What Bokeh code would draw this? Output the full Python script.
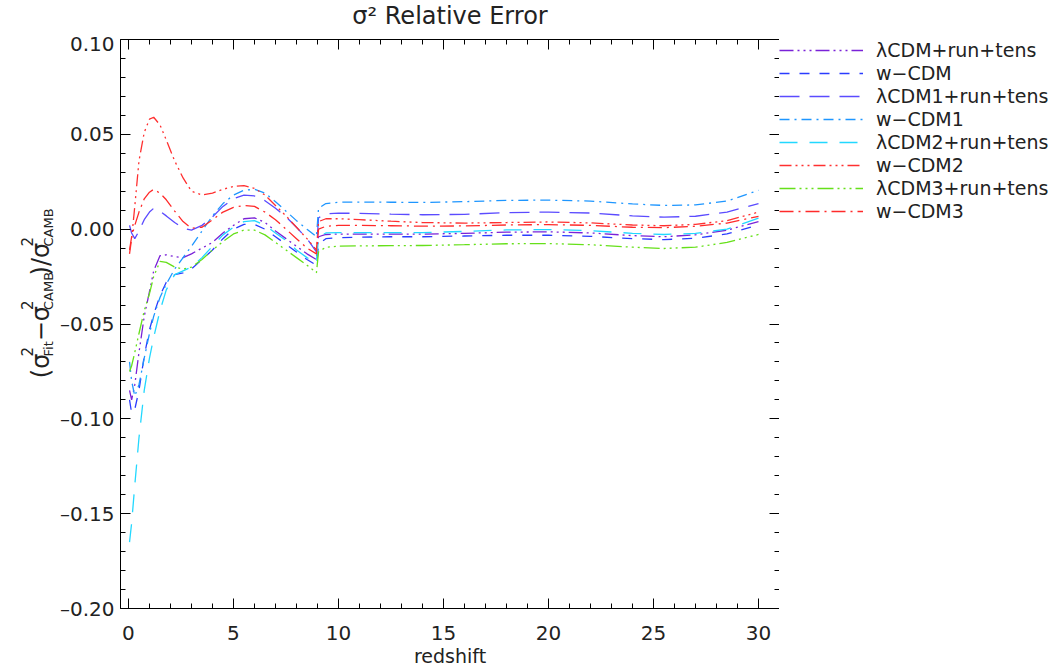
import math
from bokeh.plotting import figure
from bokeh.layouts import row, column
from bokeh.models import (LinearAxis, Range1d, SingleIntervalTicker, CustomJSTickFormatter,
                          Legend, LegendItem)
from bokeh.core.properties import value
from bokeh.embed import file_html
from bokeh.resources import INLINE

# ---------------- data ----------------
redshift = [0.05, 0.15, 0.3, 0.5, 0.75, 1.0, 1.2, 1.5, 1.8, 2.2, 2.6, 3.0, 3.5, 4.0, 4.5,
            5.0, 5.5, 6.0, 6.5, 7.0, 7.5, 8.0, 8.5, 8.95,
            9.05, 9.4, 10, 11, 12.5, 14, 16, 18, 20, 22, 24, 25.5, 27, 28.5, 30]

lcdm_run_tens = [-0.085, -0.090, -0.082, -0.065, -0.046, -0.033, -0.022, -0.014, -0.0135, -0.0145,
                 -0.015, -0.013, -0.010, -0.007, -0.002, 0.002, 0.0055, 0.006, 0.0035, -0.001,
                 -0.005, -0.009, -0.013, -0.016,
                 -0.004, -0.0028, -0.0026, -0.0026, -0.0026, -0.0026, -0.0022, -0.0016, -0.0014,
                 -0.0020, -0.0034, -0.0040, -0.0030, -0.0005, 0.0040]
w_cdm = [-0.090, -0.097, -0.095, -0.085, -0.067, -0.053, -0.045, -0.035, -0.028, -0.024,
         -0.023, -0.021, -0.016, -0.011, -0.005, 0.000, 0.0025, 0.0025, 0.000, -0.004,
         -0.008, -0.012, -0.016, -0.019,
         -0.008, -0.0050, -0.0045, -0.0042, -0.0040, -0.0040, -0.0036, -0.0032, -0.0032,
         -0.0038, -0.0050, -0.0055, -0.0048, -0.0025, 0.0022]
lcdm1_run_tens = [0.002, -0.002, -0.005, -0.001, 0.005, 0.009, 0.011, 0.0095, 0.007, 0.0035,
                  0.0005, -0.0005, 0.002, 0.0065, 0.012, 0.016, 0.018, 0.0175, 0.015, 0.011,
                  0.0065, 0.001, -0.005, -0.012,
                  0.006, 0.0080, 0.0085, 0.0083, 0.0079, 0.0076, 0.0078, 0.0087, 0.0090,
                  0.0085, 0.0070, 0.0063, 0.0068, 0.0090, 0.0135]
w_cdm1 = [-0.070, -0.080, -0.088, -0.082, -0.068, -0.055, -0.046, -0.036, -0.029, -0.021,
          -0.015, -0.009, -0.001, 0.007, 0.0135, 0.018, 0.0205, 0.021, 0.019, 0.0145,
          0.0095, 0.0045, 0.000, -0.004,
          0.011, 0.0135, 0.0142, 0.0143, 0.0142, 0.0141, 0.0145, 0.0152, 0.0153,
          0.0148, 0.0133, 0.0125, 0.0128, 0.0148, 0.0205]
lcdm2_run_tens = [-0.165, -0.155, -0.135, -0.110, -0.085, -0.068, -0.057, -0.043, -0.032, -0.024,
                  -0.022, -0.020, -0.015, -0.009, -0.003, 0.001, 0.004, 0.0045, 0.002, -0.002,
                  -0.006, -0.011, -0.015, -0.018,
                  -0.004, -0.0020, -0.0018, -0.0018, -0.0018, -0.0018, -0.0012, -0.0004, -0.0002,
                  -0.0008, -0.0022, -0.0028, -0.0022, 0.0000, 0.0058]
w_cdm2 = [-0.013, -0.005, 0.012, 0.036, 0.051, 0.058, 0.059, 0.055, 0.047, 0.036,
          0.027, 0.020, 0.018, 0.019, 0.021, 0.0225, 0.023, 0.0215, 0.018, 0.0125,
          0.007, 0.001, -0.005, -0.011,
          0.004, 0.0055, 0.0055, 0.0050, 0.0042, 0.0035, 0.0032, 0.0035, 0.0038,
          0.0033, 0.0022, 0.0018, 0.0025, 0.0045, 0.0090]
lcdm3_run_tens = [-0.075, -0.072, -0.065, -0.055, -0.043, -0.034, -0.025, -0.017, -0.0175, -0.020,
                  -0.021, -0.020, -0.016, -0.011, -0.0065, -0.0025, -0.0005, -0.0005, -0.003, -0.007,
                  -0.011, -0.015, -0.019, -0.023,
                  -0.012, -0.0095, -0.0090, -0.0088, -0.0087, -0.0086, -0.0082, -0.0077, -0.0076,
                  -0.0082, -0.0095, -0.0102, -0.0095, -0.0070, -0.0028]
w_cdm3 = [-0.011, -0.004, 0.002, 0.009, 0.016, 0.0195, 0.021, 0.019, 0.0155, 0.0095,
          0.004, 0.0005, 0.001, 0.005, 0.009, 0.0115, 0.0125, 0.012, 0.009, 0.005,
          0.000, -0.005, -0.010, -0.013,
          0.000, 0.0015, 0.0020, 0.0020, 0.0018, 0.0016, 0.0017, 0.0022, 0.0024,
          0.0020, 0.0010, 0.0008, 0.0015, 0.0032, 0.0068]

series_names = ["λCDM+run+tens", "w\u2212CDM", "λCDM1+run+tens", "w\u2212CDM1",
                "λCDM2+run+tens", "w\u2212CDM2", "λCDM3+run+tens", "w\u2212CDM3"]
series_values = [lcdm_run_tens, w_cdm, lcdm1_run_tens, w_cdm1,
                 lcdm2_run_tens, w_cdm2, lcdm3_run_tens, w_cdm3]

# ---------------- styles ----------------
colors = ["#7a22d8", "#2a3cff", "#5b4bff", "#1e96ff", "#22d8ff", "#ff3030", "#66e01a", "#ff2a2a"]
dashes = ["14 4 2 4 2 4 2 4", "10 10", "20 10", "10 5 2 5",
          "18 12", "12 4 2 4 2 4 2 4", "16 4 2 4 2 4 2 4", "14 5 2 5"]

FONT = "DejaVu Sans"
TXT = "#222222"
PAGE_W = 1053
TH = 31              # height of the title strip
HB = 640             # height of the body row
LABW = 56            # strip holding the y-axis title
FRAME_L = 120        # left edge of the plotting frame in the page
FRAME_W = 659

def blank(fig):
    fig.grid.grid_line_color = None
    fig.outline_line_color = None
    fig.border_fill_color = "white"
    fig.background_fill_color = "white"

# ---------------- title strip ----------------
t = figure(width=PAGE_W, height=TH, x_range=Range1d(0, PAGE_W), y_range=Range1d(0, TH),
           output_backend="svg", toolbar_location=None,
           x_axis_location=None, y_axis_location=None, min_border=0)
blank(t)
t.text(x=[FRAME_L + FRAME_W / 2], y=[TH - 15], text=["σ\u00b2 Relative Error"],
       text_font=value(FONT), text_font_size=value("24px"), text_color=TXT,
       text_align="center", text_baseline="middle")

# ---------------- main plot ----------------
p = figure(frame_width=FRAME_W, frame_height=569,
           x_range=Range1d(-0.38, 31.0), y_range=Range1d(-0.20, 0.10),
           output_backend="svg", toolbar_location=None,
           min_border_left=FRAME_L - LABW, min_border_right=0,
           min_border_top=0, min_border_bottom=66)
blank(p)

xfmt = CustomJSTickFormatter(code="return tick.toFixed(0);")
yfmt = CustomJSTickFormatter(code="if (Math.abs(tick) < 1e-9) {return '0.00';} return (tick < 0 ? '\u2013' : '') + Math.abs(tick).toFixed(2);")
empty = CustomJSTickFormatter(code="return '';")

def style_axis(ax, ticker, fmt, labels=True):
    ax.ticker = ticker
    ax.formatter = fmt
    ax.axis_line_color = "black"
    ax.axis_line_width = 1
    ax.major_tick_line_color = "black"
    ax.minor_tick_line_color = "black"
    ax.major_tick_in = 10
    ax.major_tick_out = 0
    ax.minor_tick_in = 5
    ax.minor_tick_out = 0
    ax.major_label_text_font = FONT
    ax.major_label_text_color = TXT
    if labels:
        ax.major_label_text_font_size = "20px"
    else:
        ax.major_label_text_font_size = "0px"
        ax.major_label_standoff = 0

xb = p.xaxis[0]
style_axis(xb, SingleIntervalTicker(interval=5, num_minor_ticks=5), xfmt)
xb.major_label_standoff = 17
xb.axis_label = "redshift"
xb.axis_label_text_font = FONT
xb.axis_label_text_font_size = "19px"
xb.axis_label_text_font_style = "normal"
xb.axis_label_text_color = TXT
xb.axis_label_standoff = 2

yl = p.yaxis[0]
style_axis(yl, SingleIntervalTicker(interval=0.05, num_minor_ticks=5), yfmt)
yl.major_label_standoff = 6

xt = LinearAxis()
style_axis(xt, SingleIntervalTicker(interval=5, num_minor_ticks=5), empty, labels=False)
p.add_layout(xt, "above")
yr = LinearAxis()
style_axis(yr, SingleIntervalTicker(interval=0.05, num_minor_ticks=5), empty, labels=False)
p.add_layout(yr, "right")

for vals, c, d in zip(series_values, colors, dashes):
    p.line(redshift, vals, line_color=c, line_dash=d, line_width=1.3)

# ---------------- legend strip (same series, plotted off-range so only the key shows) ----------------
lg = figure(width=PAGE_W - FRAME_L - FRAME_W - 1, height=HB,
            x_range=Range1d(100, 101), y_range=Range1d(100, 101),
            output_backend="svg", toolbar_location=None,
            x_axis_location=None, y_axis_location=None,
            min_border_left=0, min_border_right=0, min_border_top=8, min_border_bottom=0)
blank(lg)
items = []
for name, vals, c, d in zip(series_names, series_values, colors, dashes):
    r = lg.line(redshift, vals, line_color=c, line_dash=d, line_width=1.3)
    items.append(LegendItem(label=name, renderers=[r]))
legend = Legend(items=items, location="top_left", orientation="vertical",
                glyph_width=84, glyph_height=16, label_height=16, label_standoff=13,
                spacing=1, padding=2, margin=0,
                border_line_color=None, background_fill_alpha=0,
                label_text_font=FONT, label_text_font_size="19px", label_text_color=TXT)
lg.add_layout(legend)

# ---------------- y-axis title strip: (σ²_Fit − σ²_CAMB)/σ²_CAMB ----------------
q = figure(width=LABW, height=HB, x_range=Range1d(0, LABW), y_range=Range1d(0, HB),
           output_backend="svg", toolbar_location=None,
           x_axis_location=None, y_axis_location=None, min_border=0)
blank(q)

W = {"(": 0.39, ")": 0.39, "σ": 0.634, "\u2212": 0.838, "/": 0.337, "2": 0.636,
     "F": 0.575, "i": 0.278, "t": 0.392, "C": 0.698, "A": 0.684, "M": 0.863, "B": 0.686}

def tw(s, size):
    return sum(W[ch] for ch in s) * size

MAIN, SUP, SUB = 24, 15, 13
pieces = [("(σ", None), ("2", "Fit"), ("\u2212σ", None), ("2", "CAMB"), (")/σ", None), ("2", "CAMB")]
total = 0
for a, b in pieces:
    total += tw(a, MAIN) if b is None else max(tw(a, SUP), tw(b, SUB)) + 1
pos = 320 + total / 2          # page row where the text starts (bottom end)
BASE, SUPX, SUBX = 40, 26, 48  # pixel columns of the baselines
tx, ty, tt, ts = [], [], [], []
for a, b in pieces:
    yq = HB - (pos - TH)
    if b is None:
        tx.append(BASE); ty.append(yq); tt.append(a); ts.append(f"{MAIN}px")
        pos -= tw(a, MAIN)
    else:
        tx.append(SUPX); ty.append(yq); tt.append(a); ts.append(f"{SUP}px")
        tx.append(SUBX); ty.append(yq); tt.append(b); ts.append(f"{SUB}px")
        pos -= max(tw(a, SUP), tw(b, SUB)) + 1
q.text(x=tx, y=ty, text=tt, text_font_size=ts, angle=math.pi / 2,
       text_font=value(FONT), text_color=TXT, text_align="left", text_baseline="alphabetic")

layout = column(t, row(q, p, lg, spacing=0), spacing=0)
open("out.html", "w").write(file_html(layout, INLINE))
